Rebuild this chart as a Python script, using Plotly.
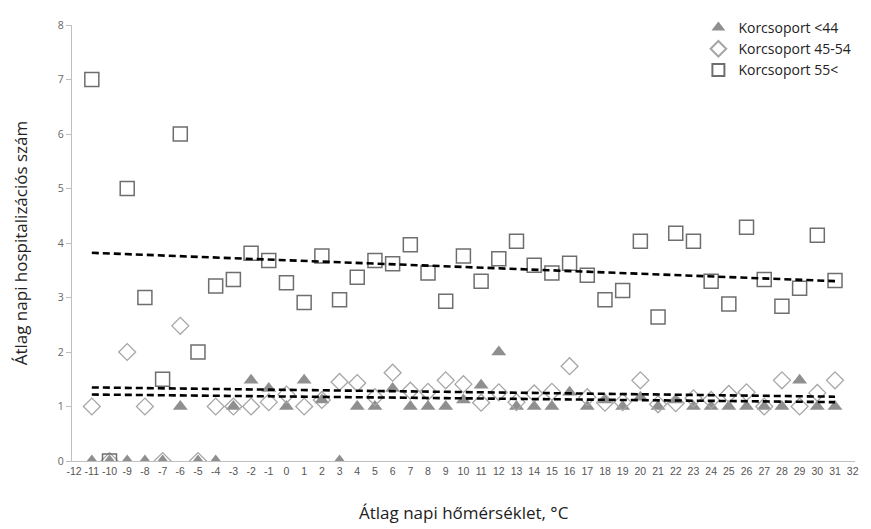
import plotly.graph_objects as go

temps = list(range(-11, 32))

grp_44 = [0, 0, 0, 0, 0, 1.0, 0, 0, 1.0, 1.48, 1.33, 1.0, 1.48, 1.12, 0, 1.0, 1.0, 1.33,
          1.0, 1.0, 1.0, 1.12, 1.39, 2.0, 1.0, 1.0, 1.0, 1.26, 1.0, 1.12, 1.0, 1.17,
          1.0, 1.12, 1.0, 1.0, 1.0, 1.0, 1.0, 1.0, 1.48, 1.0, 1.0]
grp_45_54 = [1.0, 0, 2.0, 1.0, 0, 2.48, 0, 1.0, 1.0, 1.0, 1.08, 1.22, 1.0, 1.12, 1.45, 1.43,
             1.17, 1.62, 1.29, 1.27, 1.48, 1.41, 1.07, 1.26, 1.08, 1.24, 1.27, 1.74, 1.17,
             1.07, 1.08, 1.48, 1.04, 1.06, 1.15, 1.12, 1.23, 1.26, 1.0, 1.48, 1.0, 1.25, 1.48]
grp_55 = [7.0, 0, 5.0, 3.0, 1.5, 6.0, 2.0, 3.21, 3.33, 3.81, 3.68, 3.27, 2.91, 3.76, 2.96,
          3.37, 3.68, 3.62, 3.97, 3.45, 2.93, 3.76, 3.3, 3.71, 4.03, 3.59, 3.45, 3.63, 3.41,
          2.96, 3.13, 4.03, 2.64, 4.18, 4.03, 3.3, 2.88, 4.29, 3.33, 2.84, 3.17, 4.14, 3.31]

trend_x = [-11, 31]
trend_55 = [3.82, 3.30]
trend_45_54 = [1.35, 1.18]
trend_44 = [1.22, 1.08]

names = ["Korcsoport <44", "Korcsoport 45-54", "Korcsoport 55<"]
tick_vals = list(range(-12, 33))
y_ticks = list(range(0, 9))

fig = go.Figure()

fig.add_trace(go.Scatter(x=temps, y=grp_44, mode="markers", name=names[0],
                         marker=dict(symbol="triangle-up", size=13, color="#8f8f8f",
                                     line=dict(width=0))))
fig.add_trace(go.Scatter(x=temps, y=grp_45_54, mode="markers", name=names[1],
                         marker=dict(symbol="diamond-open", size=13, color="#a6a6a6",
                                     line=dict(width=1.3))))
fig.add_trace(go.Scatter(x=temps, y=grp_55, mode="markers", name=names[2],
                         marker=dict(symbol="square-open", size=14, color="#6e6e6e",
                                     line=dict(width=1.5))))

for tv in (trend_55, trend_45_54, trend_44):
    fig.add_trace(go.Scatter(x=trend_x, y=tv, mode="lines", showlegend=False,
                             hoverinfo="skip",
                             line=dict(color="black", width=2.6, dash="7px,4px")))

fig.update_layout(
    width=871, height=529,
    margin=dict(l=72, r=14, t=24, b=68),
    paper_bgcolor="white", plot_bgcolor="white",
    font=dict(family="Open Sans", color="#222222"),
    showlegend=True,
    legend=dict(x=0.80, y=1.03, xanchor="left", yanchor="top",
                font=dict(size=14, color="#222222"), bgcolor="rgba(0,0,0,0)",
                itemsizing="constant", tracegroupgap=0, itemwidth=30),
    xaxis=dict(range=[-12.12, 32.13], tickmode="array", tickvals=tick_vals,
               ticktext=[str(v) for v in tick_vals], showgrid=False, zeroline=False,
               showline=True, linecolor="#bfbfbf", linewidth=1.2, ticks="",
               tickfont=dict(size=10.5, color="#555555", family="Liberation Sans Narrow, Liberation Sans"),
               tickangle=0),
    yaxis=dict(range=[0, 8], tickmode="array", tickvals=y_ticks, showgrid=False,
               zeroline=False, showline=True, linecolor="#bfbfbf", linewidth=1.2,
               ticks="outside", ticklen=5, tickcolor="#bfbfbf",
               tickfont=dict(size=10.5, color="#666666")),
    annotations=[
        dict(text="Átlag napi hőmérséklet, °C", xref="paper", yref="paper",
             x=0.5, y=-0.117, xanchor="center", yanchor="middle", showarrow=False,
             font=dict(size=17, color="#222222")),
        dict(text="Átlag napi hospitalizációs szám", xref="paper", yref="paper",
             x=-0.066, y=0.5, xanchor="center", yanchor="middle", showarrow=False,
             textangle=-90, font=dict(size=17, color="#222222")),
    ],
)

fig.write_html("out.html")
